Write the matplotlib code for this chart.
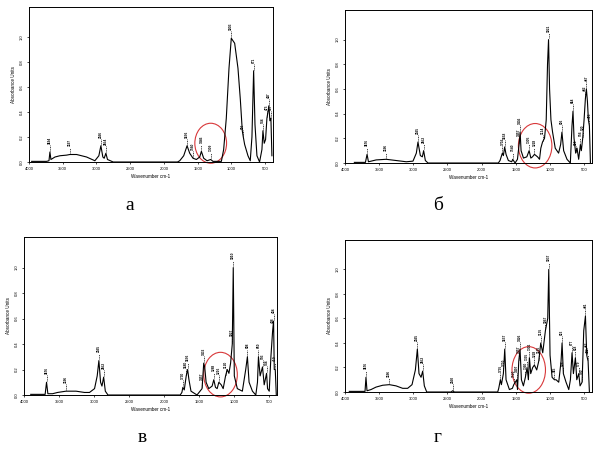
# IR spectra, four panels (а, б, в, г)

import numpy as np
import matplotlib.pyplot as plt
from matplotlib.patches import Ellipse

# ---- panel а ----
wn_a = [3961, 3739, 3704, 3690, 3675, 3615, 3542, 3443, 3394, 3295, 3147, 3024,
        2965, 2935, 2906, 2886, 2861, 2837, 2753, 1800, 1767, 1708, 1658, 1619,
        1570, 1520, 1471, 1446, 1412, 1362, 1308, 1274, 1150, 1116, 1077, 1037,
        1003, 953, 904, 869, 840, 825, 805, 756, 722, 697, 672, 652, 623, 584,
        549, 534, 515, 495, 475, 460, 446, 431, 416, 401]
ab_a = [0.005, 0.005, 0.01, 0.08, 0.02, 0.04, 0.05, 0.055, 0.06, 0.06, 0.04, 0.01,
        0.05, 0.13, 0.04, 0.03, 0.07, 0.02, 0.0, 0.0, 0.01, 0.05, 0.13, 0.07,
        0.03, 0.02, 0.04, 0.085, 0.03, 0.01, 0.02, 0.005, 0.005, 0.1, 0.35, 0.75,
        0.99, 0.95, 0.75, 0.5, 0.25, 0.2, 0.14, 0.05, 0.01, 0.2, 0.73, 0.3, 0.05, 0.0,
        0.1, 0.25, 0.15, 0.18, 0.35, 0.4, 0.45, 0.33, 0.35, 0.05]
pk_a = [3690, 3394, 2935, 2861, 1658, 1570, 1446, 1308, 1003, 825, 672, 534, 475, 446, 416]
lb_a = ['3694', '3397', '2926', '2854', '1656', '1560', '1446', '1309', '1003',
        '826', '671', '534', '475', '447', '417']

# ---- panel б ----
wn_b = [3863, 3701, 3677, 3657, 3618, 3544, 3397, 3250, 3103, 3005, 2956, 2932,
        2897, 2868, 2849, 2824, 2785, 1756, 1731, 1697, 1682, 1663, 1643, 1609,
        1560, 1545, 1511, 1476, 1452, 1437, 1423, 1388, 1339, 1305, 1280, 1256,
        1227, 1182, 1153, 1134, 1109, 1080, 1055, 1036, 1021, 1006, 986, 962, 923,
        874, 844, 825, 800, 751, 702, 678, 663, 648, 624, 604, 580, 555, 541, 521,
        501, 482, 467, 452, 438, 423, 408]
ab_b = [0.005, 0.005, 0.07, 0.01, 0.015, 0.025, 0.03, 0.02, 0.01, 0.015, 0.08, 0.17,
        0.06, 0.05, 0.1, 0.02, 0.0, 0.0, 0.02, 0.08, 0.06, 0.13, 0.07, 0.02,
        0.01, 0.03, 0.0, 0.03, 0.15, 0.25, 0.1, 0.04, 0.05, 0.1, 0.04, 0.05,
        0.07, 0.05, 0.03, 0.12, 0.17, 0.2, 0.35, 0.8, 1.0, 0.6, 0.35, 0.25, 0.12,
        0.08, 0.15, 0.25, 0.1, 0.03, 0.0, 0.3, 0.42, 0.2, 0.08, 0.12, 0.03, 0.15, 0.1, 0.2,
        0.35, 0.52, 0.6, 0.5, 0.35, 0.3, 0.0]
pk_b = [3677, 3397, 2932, 2849, 1697, 1663, 1545, 1452, 1437, 1305, 1227, 1109,
        1021, 825, 663, 624, 555, 521, 482, 467, 423]
lb_b = ['3676', '3396', '2925', '2852', '1702', '1658', '1540', '1457', '1436',
        '1305', '1228', '1114', '1021', '826', '664', '624', '556', '520', '482',
        '467', '423']

# ---- panel в ----
wn_c = [3904, 3698, 3678, 3659, 3592, 3520, 3400, 3256, 3136, 3064, 2992, 2954,
        2930, 2906, 2886, 2862, 2838, 2800, 1768, 1744, 1730, 1710, 1682, 1662,
        1643, 1614, 1528, 1456, 1432, 1418, 1398, 1360, 1312, 1288, 1264, 1240,
        1216, 1182, 1154, 1120, 1096, 1072, 1048, 1024, 1010, 995, 952, 880, 832,
        808, 784, 736, 688, 664, 650, 626, 592, 568, 534, 520, 496, 472, 448, 434,
        424, 410, 395]
ab_c = [0.005, 0.005, 0.1, 0.01, 0.01, 0.02, 0.03, 0.03, 0.02, 0.02, 0.05, 0.15,
        0.27, 0.1, 0.07, 0.14, 0.03, 0.0, 0.0, 0.02, 0.06, 0.04, 0.15, 0.2,
        0.12, 0.03, 0.0, 0.05, 0.25, 0.22, 0.1, 0.05, 0.07, 0.12, 0.06, 0.05,
        0.1, 0.08, 0.05, 0.15, 0.2, 0.17, 0.25, 0.4, 1.0, 0.15, 0.05, 0.03, 0.2,
        0.3, 0.1, 0.03, 0.0, 0.1, 0.3, 0.15, 0.22, 0.08, 0.17, 0.05, 0.03, 0.3, 0.5, 0.58,
        0.2, 0.2, 0.0]
pk_c = [3678, 3400, 2930, 2862, 1730, 1682, 1662, 1456, 1432, 1288, 1216, 1120,
        1024, 1010, 808, 650, 592, 534, 448, 434, 410]
lb_c = ['3676', '3396', '2925', '2852', '1730', '1680', '1656', '1457', '1432',
        '1288', '1216', '1120', '1027', '1010', '808', '650', '593', '534',
        '448', '434', '410']

# ---- panel г ----
wn_d = [3937, 3707, 3693, 3678, 3619, 3546, 3449, 3351, 3253, 3156, 3083, 3019,
        2970, 2941, 2917, 2887, 2863, 2839, 2804, 2448, 2424, 2399, 1765, 1750,
        1726, 1711, 1682, 1662, 1643, 1594, 1550, 1530, 1485, 1475, 1457, 1438,
        1418, 1389, 1360, 1335, 1316, 1301, 1282, 1253, 1228, 1194, 1165, 1135,
        1106, 1067, 1033, 1018, 999, 969, 935, 911, 872, 838, 823, 804, 765, 725,
        701, 677, 657, 628, 608, 579, 560, 530, 506, 481, 462, 442, 423]
ab_d = [0.005, 0.005, 0.12, 0.01, 0.02, 0.04, 0.055, 0.06, 0.05, 0.03, 0.03, 0.06,
        0.18, 0.35, 0.15, 0.12, 0.17, 0.05, 0.0, 0.0, 0.01, 0.0, 0.0, 0.03,
        0.1, 0.06, 0.15, 0.35, 0.1, 0.02, 0.03, 0.06, 0.1, 0.02, 0.25, 0.35,
        0.1, 0.05, 0.12, 0.2, 0.1, 0.28, 0.15, 0.2, 0.22, 0.18, 0.25, 0.4,
        0.32, 0.5, 0.6, 1.0, 0.3, 0.12, 0.1, 0.1, 0.08, 0.25, 0.4, 0.15, 0.08, 0.02,
        0.1, 0.32, 0.15, 0.28, 0.1, 0.15, 0.05, 0.08, 0.5, 0.62, 0.3, 0.25, 0.0]
pk_d = [3693, 3351, 2941, 2863, 2424, 1726, 1682, 1662, 1530, 1485, 1457, 1438,
        1360, 1335, 1301, 1228, 1165, 1135, 1067, 1018, 935, 823, 804, 677, 628,
        579, 530, 481, 462, 442]
lb_d = ['3676', '3396', '2925', '2852', '2360', '1735', '1700', '1657', '1520',
        '1497', '1457', '1426', '1360', '1335', '1301', '1228', '1165', '1135',
        '1067', '1037', '935', '823', '804', '677', '628', '579', '530', '481',
        '462', '442']

# red circle round the 1100-1400 region: (centre wn, centre A, width wn, height A)
circ_a = (1308, 0.15, 470, 0.32)
circ_b = (1217, 0.14, 490, 0.36)
circ_c = (1192, 0.16, 480, 0.35)
circ_d = (1311, 0.18, 490, 0.38)

panels = [
    (wn_a, ab_a, pk_a, lb_a, circ_a, [29, 7, 273, 162], 'а', (130, 205)),
    (wn_b, ab_b, pk_b, lb_b, circ_b, [345, 10, 592, 163], 'б', (438, 205)),
    (wn_c, ab_c, pk_c, lb_c, circ_c, [24, 237, 277, 395], 'в', (142, 438)),
    (wn_d, ab_d, pk_d, lb_d, circ_d, [345, 240, 592, 392], 'г', (438, 438)),
]

W, H = 601, 453
fig = plt.figure(figsize=(W / 100, H / 100), dpi=100)
plt.rcParams['font.family'] = ['Liberation Sans', 'DejaVu Sans']

for wn, ab, pk, lb, circ, box, cap, cpos in panels:
    x0, y0, x1, y1 = box
    ax = fig.add_axes([x0 / W, 1 - y1 / H, (x1 - x0) / W, (y1 - y0) / H])
    ax.plot(wn, ab, c='k', lw=0.8)
    ax.set_xlim(4000, 385)
    ax.set_ylim(0, 1.24)
    ax.set_xticks([4000, 3500, 3000, 2500, 2000, 1500, 1000, 500])
    ax.set_yticks([0.0, 0.2, 0.4, 0.6, 0.8, 1.0])
    ax.set_yticklabels(['0.0', '0.2', '0.4', '0.6', '0.8', '1.0'], rotation=90, va='center')
    ax.tick_params(labelsize=3, length=1.5, width=0.5, pad=2)
    for s in ax.spines.values():
        s.set_linewidth(0.7)
    ax.set_xlabel('Wavenumber cm-1', fontsize=3.3, labelpad=2)
    ax.set_ylabel('Absorbance Units', fontsize=3.3, labelpad=3)

    # peak labels: dashed lead plus vertical number
    xs = np.array(wn[::-1])
    ys = np.array(ab[::-1])
    for p, t in zip(pk, lb):
        h = np.interp(p, xs, ys)
        ax.plot([p, p], [h + 0.01, h + 0.055], c='k', lw=0.5, ls=(0, (1.5, 1.0)))
        ax.text(p, h + 0.065, t, rotation=90, fontsize=2.3, fontweight='bold',
                ha='center', va='bottom')

    cx, cy, cw, ch = circ
    ax.add_patch(Ellipse((cx, cy), cw, ch, fill=False, ec='#d8383a', lw=0.8, clip_on=False))

    fig.text(cpos[0] / W, 1 - cpos[1] / H, cap, fontsize=14, family='Liberation Serif',
             ha='center', va='center')

fig.savefig('out.png', dpi=100)
